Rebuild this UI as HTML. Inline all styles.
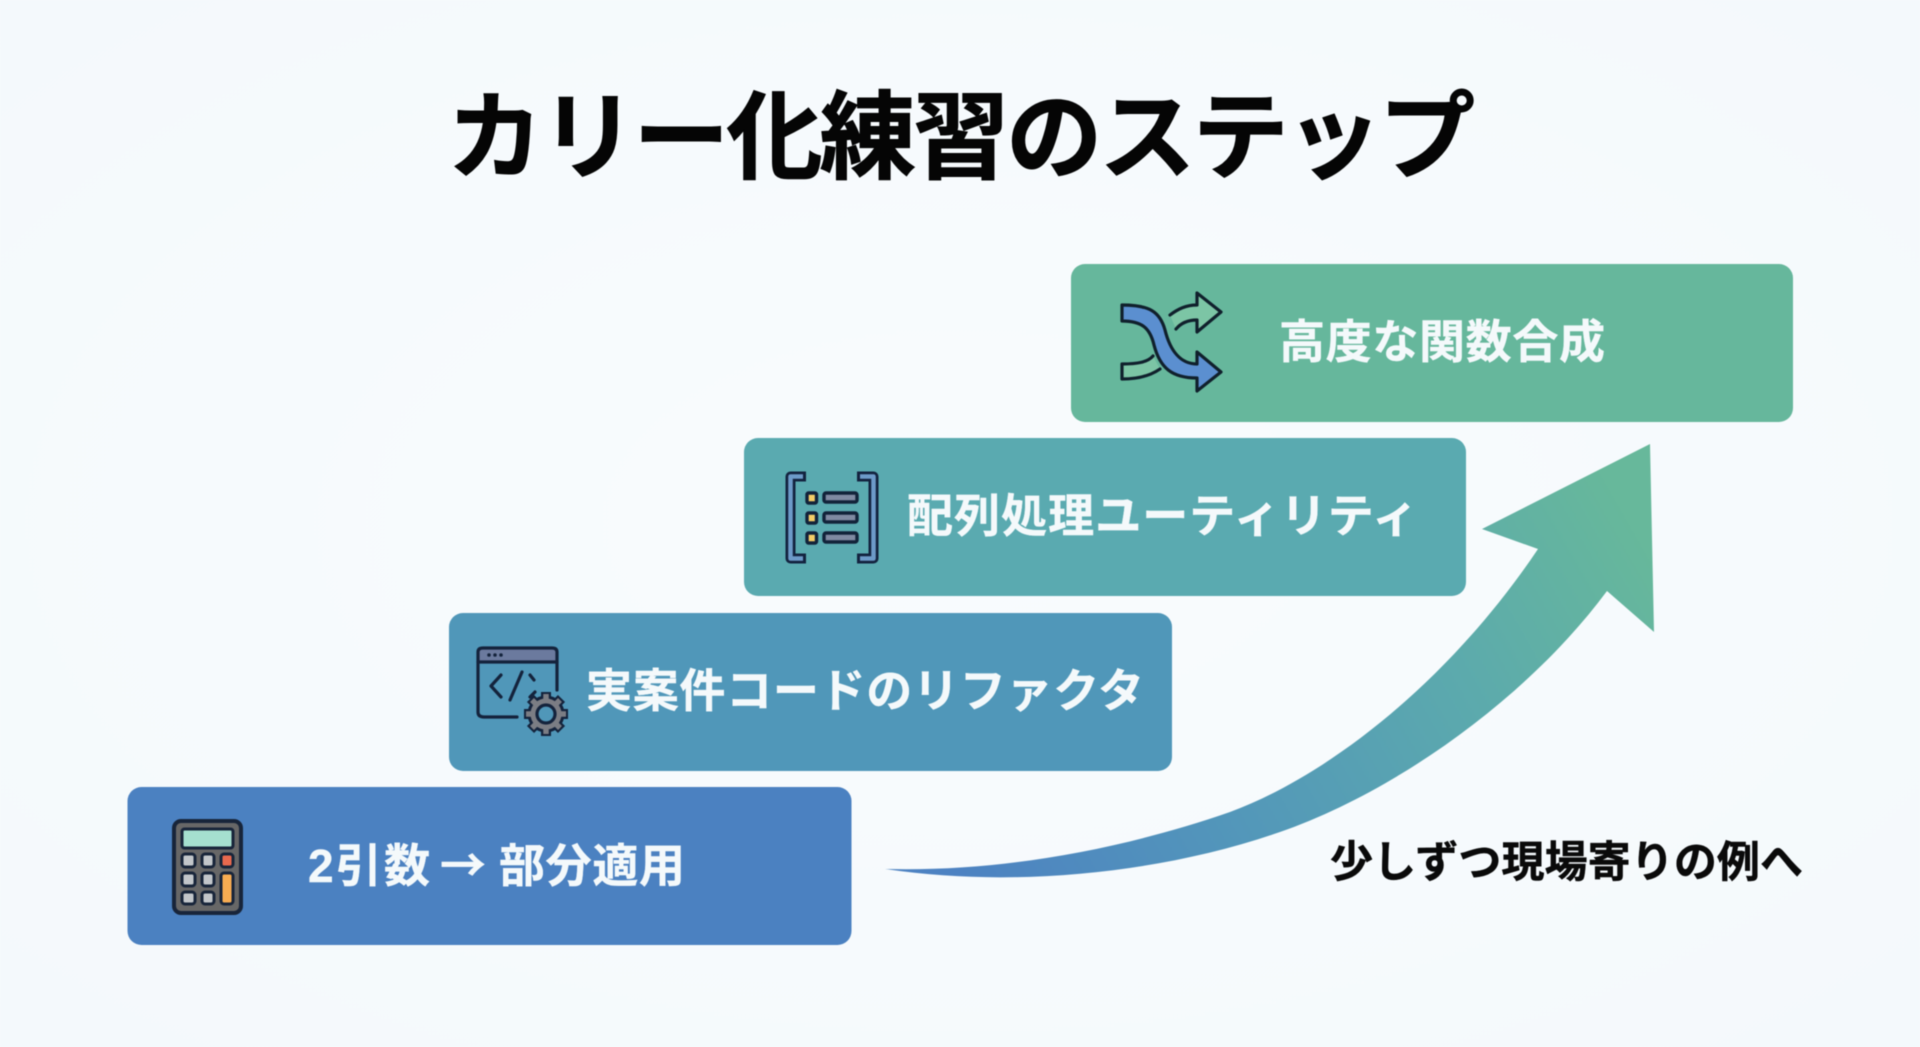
<!DOCTYPE html>
<html lang="ja">
<head>
<meta charset="utf-8">
<title>カリー化練習のステップ</title>
<style>
html,body{margin:0;padding:0;width:1920px;height:1047px;overflow:hidden;background:#f6fafd}
svg{display:block;filter:blur(.6px)}
text{font-family:"Liberation Sans","Noto Sans CJK JP",sans-serif;font-weight:700}
.w{fill:#f4f9fb;font-size:46px;stroke:#f4f9fb;stroke-width:.4px}
</style>
</head>
<body>
<svg width="1920" height="1047" viewBox="0 0 1920 1047" xmlns="http://www.w3.org/2000/svg">
<defs>
<linearGradient id="ag" gradientUnits="userSpaceOnUse" x1="960" y1="880" x2="1620" y2="500">
<stop offset="0" stop-color="#4d82c2"/>
<stop offset=".35" stop-color="#5397ba"/>
<stop offset=".7" stop-color="#5caaad"/>
<stop offset="1" stop-color="#67b89b"/>
</linearGradient>
<radialGradient id="bg" cx="50%" cy="50%" r="75%">
<stop offset="0" stop-color="#f9fcfe"/>
<stop offset="1" stop-color="#f4f9fc"/>
</radialGradient>
</defs>
<rect width="1920" height="1047" fill="url(#bg)"/>

<text x="447" y="171" font-size="96" fill="#050505" stroke="#050505" stroke-width="1" textLength="1028" lengthAdjust="spacing">カリー化練習のステップ</text>

<rect x="1071" y="264" width="722" height="158" rx="14" fill="#66b79c"/>
<rect x="744" y="438" width="722" height="158" rx="14" fill="#5aaab0"/>
<rect x="449" y="613" width="723" height="158" rx="14" fill="#5097b9"/>
<rect x="127.500" y="787" width="724" height="158" rx="14" fill="#4b81c1"/>

<path d="M885,869 C1000,872 1120,850 1230,812 C1330,775 1450,680 1538,549 L1482,529 L1650,444 L1654,632 L1607,591 C1530,695 1400,790 1280,832 C1160,874 1010,888 885,869 Z" fill="url(#ag)"/>

<text x="1279" y="358" class="w" textLength="326" lengthAdjust="spacing">高度な関数合成</text>
<text x="907" y="532" class="w" textLength="511" lengthAdjust="spacing">配列処理ユーティリティ</text>
<text x="586" y="707" class="w" textLength="558" lengthAdjust="spacing">実案件コードのリファクタ</text>
<text x="308" y="882" class="w" textLength="122" lengthAdjust="spacing">2引数</text>
<text x="440" y="882" class="w" style='font-family:"Noto Sans CJK JP",sans-serif'>→</text>
<text x="499" y="882" class="w" textLength="186" lengthAdjust="spacing">部分適用</text>
<text x="1330" y="877" font-size="43" fill="#0a0a0a" stroke="#0a0a0a" stroke-width=".5" textLength="473" lengthAdjust="spacing">少しずつ現場寄りの例へ</text>

<!-- calculator -->
<g stroke="#18253a" stroke-width="3">
<rect x="174" y="821" width="67" height="92" rx="7" fill="#676767" stroke-width="4"/>
<rect x="182" y="829" width="51" height="19" rx="2.500" fill="#a5e0cf"/>
<rect x="182" y="854" width="13" height="13" rx="3" fill="#c2c6ca"/>
<rect x="202" y="854" width="12" height="13" rx="3" fill="#c2c6ca"/>
<rect x="221" y="854" width="12" height="13" rx="3" fill="#e8694e"/>
<rect x="182" y="873" width="13" height="13" rx="3" fill="#c2c6ca"/>
<rect x="202" y="873" width="12" height="13" rx="3" fill="#c2c6ca"/>
<rect x="221" y="873" width="12" height="31" rx="3" fill="#f7ac52"/>
<rect x="182" y="892" width="13" height="12" rx="3" fill="#c2c6ca"/>
<rect x="202" y="892" width="12" height="12" rx="3" fill="#c2c6ca"/>
</g>

<!-- browser + gear -->
<g fill="none" stroke="#14233c" stroke-width="3.200" stroke-linecap="round" stroke-linejoin="round">
<path d="M478,662 V652 Q478,648 483,648 H552 Q557,648 557,652 V662 Z" fill="#6b7a9e"/>
<path d="M557,662 V690 M478,662 V712 Q478,717 484,717 H517"/>
<path d="M501,675 L491,686 L501,697 M522,672 L510,700 M530,675 L534,680 M530,697 L535,692"/>
</g>
<g fill="#14233c"><circle cx="489" cy="655" r="1.800"/><circle cx="495" cy="655" r="1.800"/><circle cx="501" cy="655" r="1.800"/></g>
<g>
<g stroke="#14233c" stroke-width="10">
<path d="M546,692 V736 M524,714 H568 M530.500,698.500 L561.500,729.500 M561.500,698.500 L530.500,729.500"/>
</g>
<circle cx="546" cy="714" r="17" fill="#7b7d84" stroke="#14233c" stroke-width="3"/>
<g stroke="#7b7d84" stroke-width="5.500">
<path d="M546,694 V734 M526,714 H566 M532,700 L560,728 M560,700 L532,728"/>
</g>
<circle cx="546" cy="714" r="15" fill="#7b7d84"/>
<circle cx="546" cy="714" r="9" fill="#5097b9" stroke="#14233c" stroke-width="3.200"/>
</g>

<!-- list in brackets -->
<g fill="none" stroke-linejoin="round">
<path d="M801,476.500 H790.500 V558.500 H801" stroke="#13233f" stroke-width="10" stroke-linecap="square"/>
<path d="M803,476.500 H790.500 V558.500 H803" stroke="#6d9ac9" stroke-width="4.500"/>
<path d="M862,476.500 H873.500 V558.500 H862" stroke="#13233f" stroke-width="10" stroke-linecap="square"/>
<path d="M860,476.500 H873.500 V558.500 H860" stroke="#6d9ac9" stroke-width="4.500"/>
</g>
<g stroke="#12233a" stroke-width="3.400">
<rect x="807" y="493" width="9.500" height="10" rx="1.500" fill="#f3cd68"/>
<rect x="807" y="513" width="9.500" height="10" rx="1.500" fill="#f3cd68"/>
<rect x="807" y="533" width="9.500" height="10" rx="1.500" fill="#f3cd68"/>
<rect x="824" y="493" width="33" height="9" rx="2" fill="#808aa2"/>
<rect x="824" y="513" width="33" height="9" rx="2" fill="#808aa2"/>
<rect x="824" y="533" width="33" height="9" rx="2" fill="#808aa2"/>
</g>

<!-- shuffle -->
<g stroke="#10202c" stroke-width="3.200" stroke-linejoin="round" stroke-linecap="round">
<path d="M1170,315 C1178,309 1186,305 1197,305 V293 L1221,312 L1197,332 V320 C1188,320 1181,323 1176,329" fill="#7cc5a5"/>
<path d="M1153,356 C1148,362 1138,364 1122,364 V379 C1138,379 1150,376 1160,369" fill="#7cc5a5"/>
<path d="M1122,305 C1150,305 1160,312 1165,330 C1170,350 1180,364 1197,364 V352 L1221,372 L1197,391 V378 C1172,378 1160,368 1154,345 C1150,328 1142,321 1122,321 Z" fill="#5b8fd0"/>
</g>
</svg>
</body>
</html>
